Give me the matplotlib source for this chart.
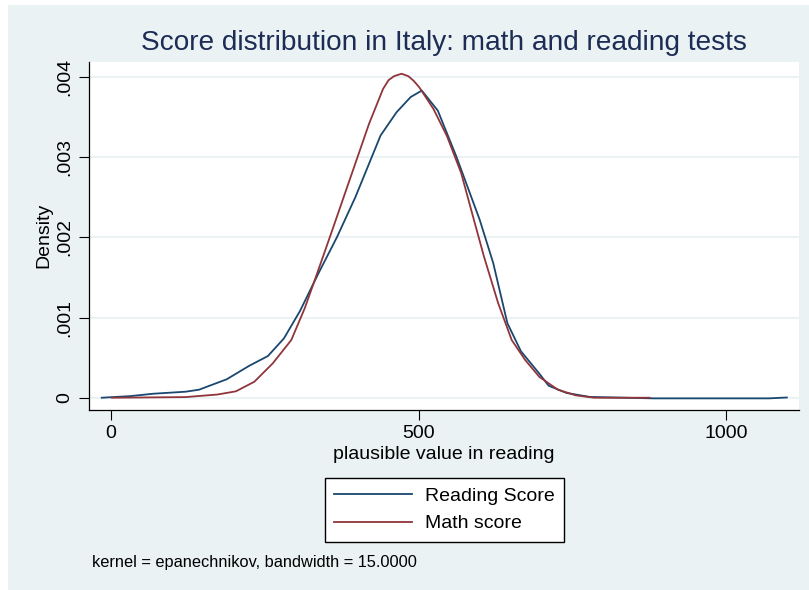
import numpy as np
import matplotlib
matplotlib.use('Agg')
import matplotlib.pyplot as plt
from matplotlib.patches import Rectangle

plt.rcParams['font.family'] = ['Liberation Sans', 'DejaVu Sans']

# kernel density of reading score
read_x = [-15, 31, 69, 121, 143, 188, 225, 255, 281, 307, 337, 367, 397, 438, 464, 487, 505,
          531, 561, 599, 621, 644, 666, 696, 711, 740, 778, 882, 1069, 1098]
read_y = [0, 0.00002, 0.00005, 0.000075, 0.0001, 0.00023, 0.0004, 0.00052, 0.00074, 0.00108,
          0.00155, 0.002, 0.0025, 0.00327, 0.00356, 0.00375, 0.00383, 0.00358, 0.00301, 0.00222,
          0.00168, 0.00093, 0.00058, 0.0003, 0.00015, 0.00006, 0.00001, -0.000008, -0.000008, 0.000003]

# kernel density of math score
math_x = [1.5, 121, 173, 203, 233, 263, 293, 315, 334, 360, 378, 401, 419, 442, 451, 460, 472, 483,
          492, 501, 524, 546, 569, 591, 606, 629, 651, 673, 696, 726, 755, 785, 875]
math_y = [0, 0.000008, 0.00004, 0.00008, 0.0002, 0.00043, 0.00072, 0.00112, 0.00153, 0.0021,
          0.0025, 0.00301, 0.00341, 0.00385, 0.00396, 0.00401, 0.00404, 0.00401, 0.00395, 0.00387,
          0.0036, 0.00326, 0.0028, 0.00218, 0.00176, 0.00118, 0.00072, 0.00047, 0.00026, 0.0001,
          0.00003, 0.0, 0.0]

y_ticks = [0, 0.001, 0.002, 0.003, 0.004]
y_labels = ['0', '.001', '.002', '.003', '.004']
x_ticks = [0, 500, 1000]

navy = '#1a476f'
maroon = '#90353b'
bg = '#eaf2f3'

fig = plt.figure(figsize=(8.09, 5.9), dpi=100)
fig.patch.set_facecolor('white')
# stata-like outer panel
fig.add_artist(Rectangle((8 / 809, 0), 1, 1 - 5 / 590, transform=fig.transFigure,
                         facecolor=bg, edgecolor='none', zorder=-10))

ax = fig.add_axes([89 / 809, 1 - 410 / 590, (799 - 89) / 809, (410 - 61.7) / 590])
ax.set_facecolor('white')

l1, = ax.plot(read_x, read_y, color=navy, lw=1.3, label='Reading Score')
l2, = ax.plot(math_x, math_y, color=maroon, lw=1.3, label='Math score')

ax.set_xlim(-35.7, 1117.8)
ax.set_ylim(-0.000153, 0.00419)
ax.set_yticks(y_ticks)
ax.set_yticklabels(y_labels, rotation=90, va='center')
ax.set_xticks(x_ticks)
ax.tick_params(direction='out', length=7, width=0.8, labelsize=14, pad=4)
ax.grid(axis='y', color=bg, lw=1.5)
ax.set_axisbelow(True)
for s in ['top', 'right']:
    ax.spines[s].set_visible(False)
for s in ['left', 'bottom']:
    ax.spines[s].set_linewidth(0.9)

ax.set_ylabel('Density', fontsize=14, labelpad=3)
ax.set_xlabel('plausible value in reading', fontsize=14, labelpad=3)

fig.text(444 / 809, 1 - 43 / 590, 'Score distribution in Italy: math and reading tests',
         ha='center', va='center', fontsize=20.2, color='#1c2c55')

fig.legend(handles=[l1, l2], loc='center', bbox_to_anchor=(444.5 / 809, 1 - 510 / 590),
           frameon=True, fancybox=False, edgecolor='black', framealpha=1, fontsize=14,
           handlelength=4.0, handletextpad=0.65, borderpad=0.5, labelspacing=0.5)

fig.text(92 / 809, 1 - 562 / 590, 'kernel = epanechnikov, bandwidth = 15.0000',
         ha='left', va='center', fontsize=11.8)

fig.savefig('out.png', dpi=100)
